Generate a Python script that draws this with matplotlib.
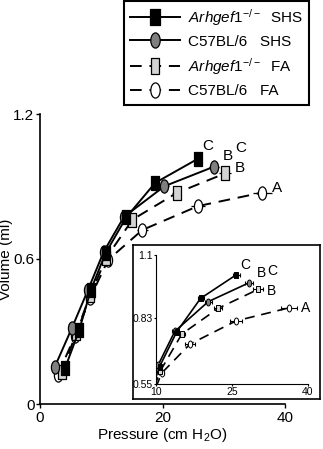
import matplotlib
matplotlib.use("Agg")
import matplotlib.pyplot as plt
import numpy as np
from matplotlib.path import Path

plt.rcParams['font.family'] = ['Liberation Sans', 'DejaVu Sans']
plt.rcParams['mathtext.fontset'] = 'custom'
plt.rcParams['mathtext.rm'] = 'Liberation Sans'
plt.rcParams['mathtext.it'] = 'Liberation Sans:italic'
plt.rcParams['mathtext.bf'] = 'Liberation Sans:bold'

# ---- data (pressure cm H2O, volume ml) ----
ko_shs_p = [4.1, 6.4, 8.3, 10.7, 14.1, 18.8, 25.8]
ko_shs_v = [0.149, 0.306, 0.472, 0.624, 0.773, 0.915, 1.015]
ko_shs_e = [0.2, 0.3, 0.3, 0.4, 0.5, 0.6, 0.7]

wt_shs_p = [2.4, 5.2, 7.8, 10.4, 13.7, 20.3, 28.4]
wt_shs_v = [0.153, 0.314, 0.470, 0.630, 0.774, 0.901, 0.982]
wt_shs_e = [0.2, 0.3, 0.3, 0.4, 0.5, 0.7, 0.8]

ko_fa_p = [3.6, 5.9, 8.2, 10.8, 15.1, 22.3, 30.2]
ko_fa_v = [0.132, 0.294, 0.451, 0.604, 0.763, 0.873, 0.954]
ko_fa_e = [0.2, 0.3, 0.3, 0.4, 0.6, 0.8, 1.0]

wt_fa_p = [2.9, 5.7, 8.2, 11.1, 16.7, 25.8, 36.3]
wt_fa_v = [0.120, 0.281, 0.439, 0.596, 0.720, 0.819, 0.875]
wt_fa_e = [0.2, 0.3, 0.3, 0.5, 0.9, 1.2, 1.6]

series_labels = [r"$\it{Arhgef1}^{-/-}$  SHS", r"C57BL/6   SHS",
                 r"$\it{Arhgef1}^{-/-}$  FA", r"C57BL/6   FA"]

letters = ["C", "B", "C", "B", "A"]
main_letter_x = [27.4, 30.7, 32.7, 32.7, 38.7]
main_letter_y = [1.067, 1.026, 1.06, 0.977, 0.894]
inset_letter_x = [27.6, 30.9, 33.0, 32.8, 39.6]
inset_letter_y = [1.057, 1.022, 1.033, 0.948, 0.873]

main_xticks = [0, 20, 40]
main_yticks = [0, 0.6, 1.2]
main_yticklabels = ["0", "0.6", "1.2"]
inset_xticks = [10, 25, 40]
inset_xticklabels = ["10", "25", "40"]
inset_yticks = [0.55, 0.83, 1.1]
inset_yticklabels = ["0.55", "0.83", "1.1"]

# ---- marker shapes ----
def ellipse(aspect):
    c = Path.unit_circle()
    v = c.vertices.copy()
    v[:, 0] *= aspect
    return Path(v, c.codes)

def rect(aspect):
    v = np.array([[-aspect, -1], [aspect, -1], [aspect, 1], [-aspect, 1], [-aspect, -1]])
    return Path(v, [Path.MOVETO, Path.LINETO, Path.LINETO, Path.LINETO, Path.CLOSEPOLY])

styles = [
    dict(p=wt_fa_p, v=wt_fa_v, e=wt_fa_e, marker=ellipse(0.62), fc='white', ls=(0, (6, 4)), z=2),
    dict(p=ko_fa_p, v=ko_fa_v, e=ko_fa_e, marker=rect(0.55), fc='#d4d4d4', ls=(0, (6, 4)), z=3),
    dict(p=wt_shs_p, v=wt_shs_v, e=wt_shs_e, marker=ellipse(0.62), fc='#7f7f7f', ls='-', z=4),
    dict(p=ko_shs_p, v=ko_shs_v, e=ko_shs_e, marker=rect(0.62), fc='black', ls='-', z=5),
]
legend_order = [3, 2, 1, 0]

W, H = 323, 449
fig = plt.figure(figsize=(W / 100, H / 100), dpi=100)

# ---- main axes ----
ax = fig.add_axes([40 / W, 1 - 404 / H, 245 / W, 290 / H])
handles = []
for s in styles:
    ax.errorbar(s['p'], s['v'], xerr=s['e'], fmt='none', ecolor='black',
                elinewidth=0.9, capsize=0, zorder=s['z'])
    ln, = ax.plot(s['p'], s['v'], color='black', lw=1.4, ls=s['ls'],
                  marker=s['marker'], markersize=9.5, markerfacecolor=s['fc'],
                  markeredgecolor='black', markeredgewidth=0.9, zorder=s['z'])
    handles.append(ln)
for t, x, y in zip(letters, main_letter_x, main_letter_y):
    ax.text(x, y, t, fontsize=11, ha='center', va='center')
ax.set_xlim(0, 40)
ax.set_ylim(0, 1.2)
ax.set_xticks(main_xticks)
ax.set_yticks(main_yticks)
ax.set_yticklabels(main_yticklabels)
ax.spines['top'].set_visible(False)
ax.spines['right'].set_visible(False)
for sp in ax.spines.values():
    sp.set_linewidth(1.2)
ax.tick_params(direction='out', length=3, width=1, labelsize=11, pad=2)
ax.tick_params(axis='y', pad=1)
ax.set_xlabel(r"Pressure (cm H$_2$O)", fontsize=11, labelpad=1)
ax.set_ylabel("Volume (ml)", fontsize=11, labelpad=-1)
ax.yaxis.set_label_coords(-0.11, 0.5)
ax.patch.set_alpha(0)

# ---- inset ----
frame = fig.add_axes([133 / W, 1 - 399 / H, 187 / W, 154 / H], zorder=5)
frame.set_xticks([])
frame.set_yticks([])
for sp in frame.spines.values():
    sp.set_linewidth(1.2)
ins = fig.add_axes([156 / W, 1 - 384 / H, 152 / W, 129 / H], zorder=6)
for s in styles:
    ins.errorbar(s['p'], s['v'], xerr=s['e'], fmt='none', ecolor='black',
                 elinewidth=0.8, capsize=1.5, capthick=0.8, zorder=s['z'])
    ins.plot(s['p'], s['v'], color='black', lw=1.2, ls=s['ls'],
             marker=s['marker'], markersize=5, markerfacecolor=s['fc'],
             markeredgecolor='black', markeredgewidth=0.7, zorder=s['z'])
for t, x, y in zip(letters, inset_letter_x, inset_letter_y):
    ins.text(x, y, t, fontsize=10, ha='center', va='center')
ins.set_xlim(10, 40)
ins.set_ylim(0.55, 1.1)
ins.set_xticks(inset_xticks)
ins.set_xticklabels(inset_xticklabels)
ins.set_yticks(inset_yticks)
ins.set_yticklabels(inset_yticklabels)
ins.spines['top'].set_visible(False)
ins.spines['right'].set_visible(False)
ins.tick_params(direction='out', length=1.5, width=0.8, labelsize=7.5, pad=1)
ins.patch.set_alpha(0)

# ---- legend ----
leg_handles = [handles[i] for i in legend_order]
leg = fig.legend(leg_handles, series_labels, loc='upper right',
                 bbox_to_anchor=(309 / W, 1 - 0.5 / H), fontsize=11,
                 handlelength=3.3, handletextpad=0.5, labelspacing=0.48,
                 borderpad=0.4, borderaxespad=0, frameon=True, fancybox=False,
                 edgecolor='black', framealpha=1, markerscale=1.15)
leg.get_frame().set_linewidth(1.5)

fig.savefig("out.png", dpi=100)
